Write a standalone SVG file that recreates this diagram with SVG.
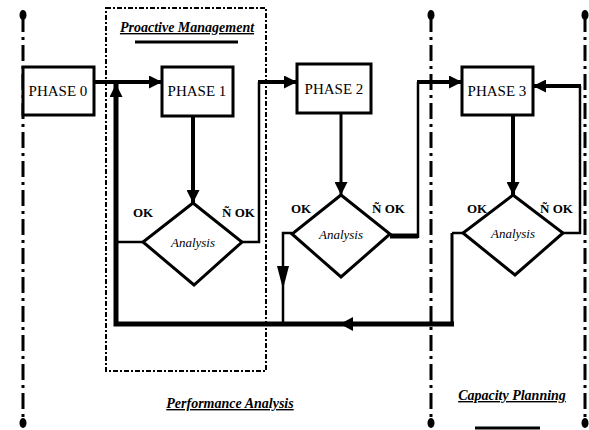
<svg xmlns="http://www.w3.org/2000/svg" width="589" height="430" viewBox="0 0 589 430">
<style>
.box{fill:#fff;stroke:#000;stroke-width:3}
.dia{fill:#fff;stroke:#000;stroke-width:3}
.ph{font-family:"Liberation Serif",serif;font-size:15px;fill:#000}
.an{font-family:"Liberation Serif",serif;font-style:italic;font-size:13px;fill:#000}
.ok{font-family:"Liberation Serif",serif;font-weight:bold;font-size:13px;fill:#000}
.ttl{font-family:"Liberation Serif",serif;font-weight:bold;font-style:italic;font-size:14px;fill:#000;text-decoration:underline}
.sep{stroke:#000;stroke-width:3;stroke-dasharray:16 5 3 5;fill:none}
.c{fill:none;stroke:#000;stroke-linejoin:miter}
.ah{fill:#000}
</style>
<defs>
<marker id="arr" viewBox="0 0 12 12" refX="12" refY="6" markerWidth="13" markerHeight="13" markerUnits="userSpaceOnUse" orient="auto">
<path d="M0,0 L12,6 L0,12 Z" fill="#000"/>
</marker>
</defs>
<rect width="589" height="430" fill="#fff"/>
<g id="separators">
<line class="sep" x1="23" y1="16" x2="23" y2="422"/>
<line class="sep" x1="431" y1="16" x2="431" y2="422"/>
<line class="sep" x1="585" y1="16" x2="585" y2="422"/>
<ellipse cx="23" cy="15" rx="3.5" ry="5"/>
<ellipse cx="23" cy="423" rx="3.5" ry="5"/>
<ellipse cx="431" cy="15" rx="3.5" ry="5"/>
<ellipse cx="431" cy="423" rx="3.5" ry="5"/>
<ellipse cx="585" cy="15" rx="3.5" ry="5"/>
<ellipse cx="585" cy="423" rx="3.5" ry="5"/>
</g>
<g id="proactive-frame">
<rect x="106" y="8" width="160" height="363" fill="none" stroke="#000" stroke-width="2" stroke-dasharray="5 2 2 2"/>
<text class="ttl" x="187" y="32" text-anchor="middle">Proactive Management</text>
<line x1="135" y1="42" x2="238" y2="42" stroke="#000" stroke-width="3"/>
</g>
<g id="connectors">
<line class="c" x1="94" y1="82" x2="162" y2="82" stroke-width="4" marker-end="url(#arr)"/>
<path class="c" d="M452,233 L452,324" stroke-width="3"/>
<path class="c" d="M454,324 L116,324 L116,84" stroke-width="5" marker-end="url(#arr)"/>
<polygon class="ah" points="340,324 353,317 353,331"/>
<line class="c" x1="193" y1="116" x2="193" y2="203" stroke-width="4" marker-end="url(#arr)"/>
<line class="c" x1="143" y1="242" x2="116" y2="242" stroke-width="2.5"/>
<path class="c" d="M242,242 L259,242 L259,82" stroke-width="2.5"/>
<line class="c" x1="258" y1="82" x2="297" y2="82" stroke-width="4" marker-end="url(#arr)"/>
<line class="c" x1="341" y1="113" x2="341" y2="195" stroke-width="3" marker-end="url(#arr)"/>
<path class="c" d="M292,233 L283,233 L283,324" stroke-width="2.5"/>
<polygon class="ah" points="283,289 277,266 289,266"/>
<path class="c" d="M390,236 L418,236" stroke-width="5"/>
<path class="c" d="M418,238 L418,82" stroke-width="2.5"/>
<line class="c" x1="417" y1="82" x2="462" y2="82" stroke-width="4" marker-end="url(#arr)"/>
<line class="c" x1="513" y1="115" x2="513" y2="195" stroke-width="4" marker-end="url(#arr)"/>
<path class="c" d="M563,233 L580,233 L580,86" stroke-width="2.5"/>
<line class="c" x1="581" y1="86" x2="533" y2="86" stroke-width="4" marker-end="url(#arr)"/>
<path class="c" d="M463,233 L452,233" stroke-width="2.5"/>
</g>
<g id="phase0">
<rect class="box" x="23" y="67" width="71" height="48"/>
<text class="ph" x="58" y="96" text-anchor="middle">PHASE 0</text>
</g>
<g id="phase1">
<rect class="box" x="162" y="67" width="71" height="49"/>
<text class="ph" x="197" y="96" text-anchor="middle">PHASE 1</text>
</g>
<g id="phase2">
<rect class="box" x="297" y="64" width="74" height="49"/>
<text class="ph" x="334" y="94" text-anchor="middle">PHASE 2</text>
</g>
<g id="phase3">
<rect class="box" x="462" y="67" width="71" height="48"/>
<text class="ph" x="497" y="96" text-anchor="middle">PHASE 3</text>
</g>
<g id="analysis1">
<polygon class="dia" points="193,203 242,242 194,285 143,242"/>
<text class="an" x="193" y="247" text-anchor="middle">Analysis</text>
<text class="ok" x="133" y="217">OK</text>
<text class="ok" x="222" y="217">Ñ OK</text>
</g>
<g id="analysis2">
<polygon class="dia" points="341,195 390,234 341,277 292,234"/>
<text class="an" x="341" y="239" text-anchor="middle">Analysis</text>
<text class="ok" x="291" y="213">OK</text>
<text class="ok" x="372" y="213">Ñ OK</text>
</g>
<g id="analysis3">
<polygon class="dia" points="513,195 563,233 515,275 463,233"/>
<text class="an" x="513" y="238" text-anchor="middle">Analysis</text>
<text class="ok" x="467" y="213">OK</text>
<text class="ok" x="540" y="213">Ñ OK</text>
</g>
<g id="labels">
<text class="ttl" x="230" y="408" text-anchor="middle">Performance Analysis</text>
<text class="ttl" x="512" y="400" text-anchor="middle">Capacity Planning</text>
<line x1="475" y1="428" x2="540" y2="428" stroke="#000" stroke-width="3"/>
</g>
</svg>
